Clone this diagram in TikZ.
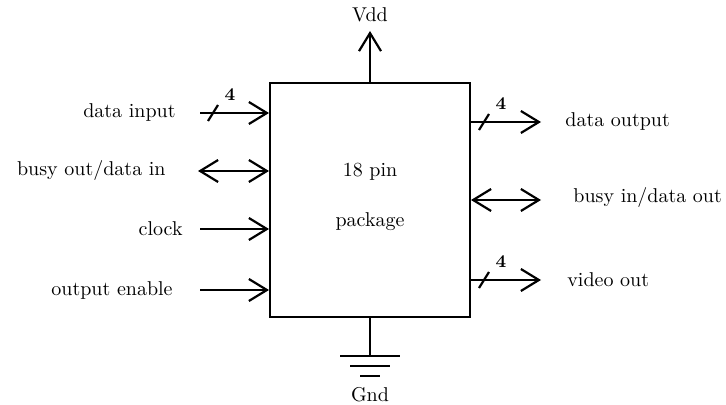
\documentclass[tikz,border=0pt]{standalone}
\usetikzlibrary{arrows.meta,positioning,calc}

\begin{document}
\begin{tikzpicture}[
    x=0.5pt, y=-0.5pt,
    font=\normalsize,
    chip/.style={draw, line width=1pt, minimum width=100pt, minimum height=117pt, inner sep=0pt},
    lbl/.style={inner sep=1pt},
    barb/.tip={Straight Barb[length=9pt,width=11pt]},
    arrow/.style={-barb, line width=1.1pt},
    both/.style={barb-barb, line width=1.1pt},
    wire/.style={line width=1.1pt}
  ]
    \useasboundingbox (0,0) rectangle (726,405);
    \node[chip] (pkg) at (370,200) {};
    \node (pin) at (370,172) {18 pin};
    \node (pack) at (370,222) {package};
    % inputs on the left
    \foreach \n/\x/\y/\t in {din/178/113/{data input},clk/185/229/{clock},oe/175/290/{output enable}} {
      \node[lbl, anchor=east] (\n) at (\x,\y) {\t};
      \coordinate (\n s) at (200,\y);
      \draw[arrow] (\n s) -- (\n s -| pkg.west);
    }
    \node[lbl, anchor=east] (bout) at (168,171) {busy out/data in};
    \coordinate (bout s) at (198,171);
    \draw[both] (bout s) -- (bout s -| pkg.west);
    % outputs on the right
    \foreach \n/\x/\y/\t in {dout/563/122/{data output},vid/565/280/{video out}} {
      \node[lbl, anchor=west] (\n) at (\x,\y) {\t};
      \coordinate (\n e) at (541,\y);
      \draw[arrow] (\n e -| pkg.east) -- (\n e);
    }
    \node[lbl, anchor=west] (bin) at (571,198) {busy in/data out};
    \coordinate (bin e) at (541,200);
    \draw[both] (bin e -| pkg.east) -- (bin e);
    % bus width marks
    \coordinate (dinb) at (213,113);
    \coordinate (doutb) at (484,122);
    \coordinate (vidb) at (484,280);
    \foreach \c in {dinb,doutb,vidb} {
      \draw[wire] ($(\c)+(-5,8)$) -- ($(\c)+(5,-8)$);
      \node[font=\small\bfseries, inner sep=0pt] (\c n) at ($(\c)+(17,-18)$) {4};
    }
    % supply
    \node (vdd) at (370,15) {Vdd};
    \coordinate (vddt) at (370,31);
    \draw[arrow] (pkg.north) -- (vddt);
    \coordinate (gnd) at (370,356);
    \draw[wire] (pkg.south) -- (gnd);
    \foreach \w/\d in {30/0,20/10,10/20}
      \draw[wire] ($(gnd)+(-\w,\d)$) -- ($(gnd)+(\w,\d)$);
    \node (gndl) at (370,395) {Gnd};
  \end{tikzpicture}
\end{document}
